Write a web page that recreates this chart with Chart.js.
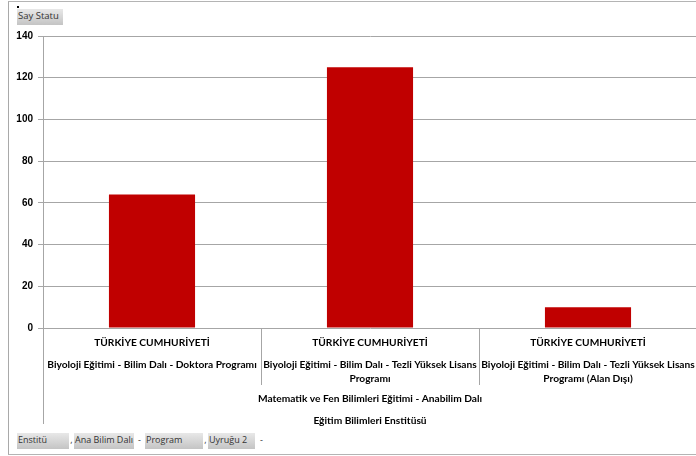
<!DOCTYPE html>
<html>
<head>
<meta charset="utf-8">
<script src="https://cdn.jsdelivr.net/npm/chart.js@4"></script>
<style>
    html, body { margin: 0; padding: 0; background: #fff; overflow: hidden; width: 696px; height: 456px; }
    #frame { position: absolute; left: 8px; top: 1px; width: 720px; height: 452px; border-left: 1px solid #a9a9a9; border-top: 1px solid #b4b4b4; border-bottom: 1px solid #b4b4b4; }
    #chartBox { position: absolute; left: 0; top: 0; width: 700px; height: 456px; }
    .btn { position: absolute; height: 16px; line-height: 16px; font: 9px 'Open Sans', sans-serif; color: #333; padding-left: 1px; box-sizing: border-box;
           background: linear-gradient(#e8e8e8, #c4c4c4); white-space: nowrap; overflow: hidden; }
    .dd { position: absolute; height: 16px; line-height: 14px; font: 9px 'Open Sans', sans-serif; color: #333; background: #fff; text-align: center; }
    #dot { position: absolute; left: 17px; top: 6px; width: 2px; height: 2px; background: #000; }
</style>
</head>
<body>
<div id="frame"></div>
<div id="chartBox"><canvas id="chart" width="700" height="456"></canvas></div>
<div id="dot"></div>
<div class="btn" style="left:17px;top:9px;width:46px;font-size:9.5px;">Say Statu</div>
<div class="btn" style="left:17px;top:433px;width:52px;">Enstitü</div>
<div class="dd" style="left:69px;top:433px;width:5px;">,</div>
<div class="btn" style="left:74px;top:433px;width:60px;">Ana Bilim Dalı</div>
<div class="dd" style="left:134px;top:433px;width:11px;">-</div>
<div class="btn" style="left:145px;top:433px;width:58px;">Program</div>
<div class="dd" style="left:203px;top:433px;width:5px;">,</div>
<div class="btn" style="left:208px;top:433px;width:47px;">Uyruğu 2</div>
<div class="dd" style="left:255px;top:433px;width:13px;">-</div>
<script>
    // category levels, innermost first
    const nationality = ['TÜRKİYE CUMHURİYETİ', 'TÜRKİYE CUMHURİYETİ', 'TÜRKİYE CUMHURİYETİ'];
    const programs = [
        ['Biyoloji Eğitimi - Bilim Dalı - Doktora Programı'],
        ['Biyoloji Eğitimi - Bilim Dalı - Tezli Yüksek Lisans', 'Programı'],
        ['Biyoloji Eğitimi - Bilim Dalı - Tezli Yüksek Lisans', 'Programı (Alan Dışı)']
    ];
    const department = 'Matematik ve Fen Bilimleri Eğitimi - Anabilim Dalı';
    const institute = 'Eğitim Bilimleri Enstitüsü';
    const counts = [64, 125, 10];
    const yMin = 0, yMax = 140, yStep = 20;

    const gridColor = '#a6a6a6';
    const catFont = 'bold 10.2px Lato, "Open Sans", sans-serif';

    // draws the multi-level category axis under the plot
    const multiLevelAxis = {
        id: 'multiLevelAxis',
        afterDraw: function (chart) {
            var ctx = chart.ctx;
            var area = chart.chartArea;
            var xs = chart.scales.x;
            var b = area.bottom;
            ctx.save();
            ctx.strokeStyle = gridColor;
            ctx.lineWidth = 1;
            ctx.beginPath();
            ctx.moveTo(Math.round(area.left) + 0.5, b);
            ctx.lineTo(Math.round(area.left) + 0.5, b + 96);
            for (var i = 0; i < nationality.length - 1; i++) {
                var sx = Math.round((xs.getPixelForValue(i) + xs.getPixelForValue(i + 1)) / 2) + 0.5;
                ctx.moveTo(sx, b);
                ctx.lineTo(sx, b + 57);
            }
            ctx.stroke();

            ctx.fillStyle = '#000';
            ctx.font = catFont;
            ctx.textAlign = 'center';
            ctx.textBaseline = 'middle';
            for (var j = 0; j < nationality.length; j++) {
                var cx = xs.getPixelForValue(j);
                ctx.fillText(nationality[j], cx, b + 15);
                programs[j].forEach(function (line, k) {
                    ctx.fillText(line, cx, b + 37 + k * 14);
                });
            }
            var mid = (area.left + area.right) / 2;
            ctx.fillText(department, mid, b + 71);
            ctx.fillText(institute, mid, b + 93);
            ctx.restore();
        }
    };

    new Chart(document.getElementById('chart').getContext('2d'), {
        type: 'bar',
        data: {
            labels: nationality.map(function (n, i) { return [n].concat(programs[i]); }),
            datasets: [{
                label: 'Say Statu',
                data: counts,
                backgroundColor: '#c00000',
                borderWidth: 0,
                categoryPercentage: 1,
                barPercentage: 0.395
            }]
        },
        options: {
            responsive: false,
            animation: false,
            layout: { padding: { left: 0, right: 3, top: 36, bottom: 128 } },
            plugins: { legend: { display: false }, tooltip: { enabled: false } },
            scales: {
                x: { display: false, offset: true },
                y: {
                    min: yMin,
                    max: yMax,
                    afterFit: function (scale) { scale.width = 43; },
                    ticks: {
                        stepSize: yStep,
                        padding: 5,
                        color: '#000',
                        font: { family: '"Liberation Sans", Arial, sans-serif', size: 10, weight: 'bold' }
                    },
                    grid: { color: gridColor, tickLength: 5, lineWidth: 1 },
                    border: { color: gridColor }
                }
            }
        },
        plugins: [multiLevelAxis]
    });
</script>
</body>
</html>
